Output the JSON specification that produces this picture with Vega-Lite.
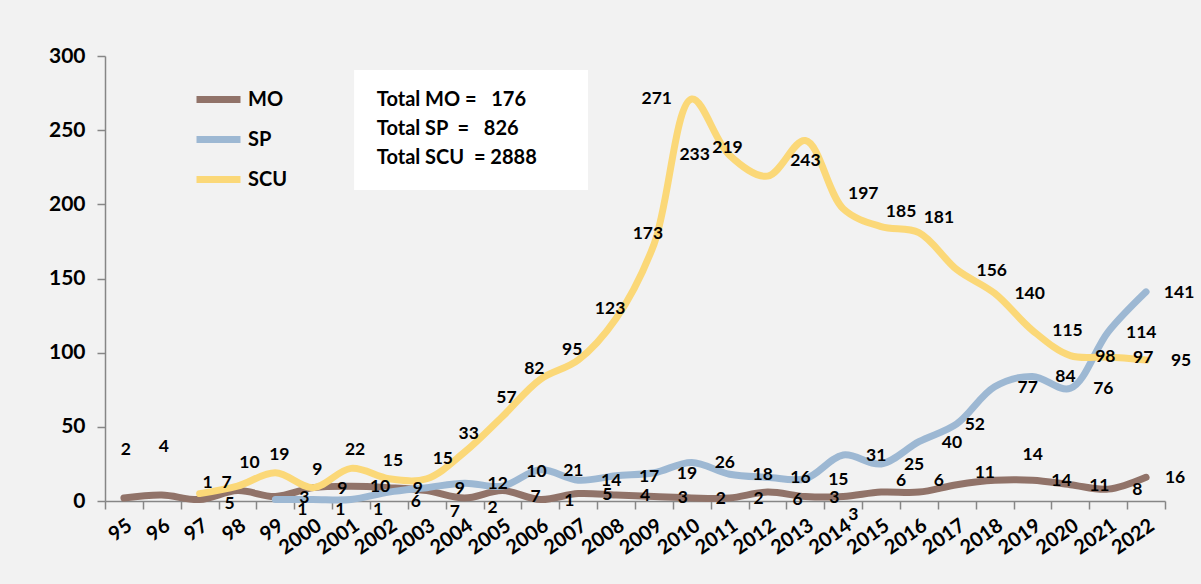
{
  "$schema": "https://vega.github.io/schema/vega-lite/v6.json",
  "width": 1060,
  "height": 445,
  "autosize": {"type": "none"},
  "padding": {"left": 105, "top": 56, "right": 36, "bottom": 83},
  "background": "#f2f2f2",
  "config": {
    "view": {"stroke": null},
    "font": "Lato",
    "text": {"font": "Lato", "fontSize": 17.5, "fontWeight": "bold", "color": "black", "align": "center", "baseline": "middle"}
  },
  "datasets": {
    "counts": [
      {"series": "MO", "year": "95", "value": 2},
      {"series": "MO", "year": "96", "value": 4},
      {"series": "MO", "year": "97", "value": 1},
      {"series": "MO", "year": "98", "value": 7},
      {"series": "MO", "year": "99", "value": 3},
      {"series": "MO", "year": "2000", "value": 9},
      {"series": "MO", "year": "2001", "value": 10},
      {"series": "MO", "year": "2002", "value": 9},
      {"series": "MO", "year": "2003", "value": 7},
      {"series": "MO", "year": "2004", "value": 2},
      {"series": "MO", "year": "2005", "value": 7},
      {"series": "MO", "year": "2006", "value": 1},
      {"series": "MO", "year": "2007", "value": 5},
      {"series": "MO", "year": "2008", "value": 4},
      {"series": "MO", "year": "2009", "value": 3},
      {"series": "MO", "year": "2010", "value": 2},
      {"series": "MO", "year": "2011", "value": 2},
      {"series": "MO", "year": "2012", "value": 6},
      {"series": "MO", "year": "2013", "value": 3},
      {"series": "MO", "year": "2014", "value": 3},
      {"series": "MO", "year": "2015", "value": 6},
      {"series": "MO", "year": "2016", "value": 6},
      {"series": "MO", "year": "2017", "value": 11},
      {"series": "MO", "year": "2018", "value": 14},
      {"series": "MO", "year": "2019", "value": 14},
      {"series": "MO", "year": "2020", "value": 11},
      {"series": "MO", "year": "2021", "value": 8},
      {"series": "MO", "year": "2022", "value": 16},
      {"series": "SP", "year": "99", "value": 1},
      {"series": "SP", "year": "2000", "value": 1},
      {"series": "SP", "year": "2001", "value": 1},
      {"series": "SP", "year": "2002", "value": 6},
      {"series": "SP", "year": "2003", "value": 9},
      {"series": "SP", "year": "2004", "value": 12},
      {"series": "SP", "year": "2005", "value": 10},
      {"series": "SP", "year": "2006", "value": 21},
      {"series": "SP", "year": "2007", "value": 14},
      {"series": "SP", "year": "2008", "value": 17},
      {"series": "SP", "year": "2009", "value": 19},
      {"series": "SP", "year": "2010", "value": 26},
      {"series": "SP", "year": "2011", "value": 18},
      {"series": "SP", "year": "2012", "value": 16},
      {"series": "SP", "year": "2013", "value": 15},
      {"series": "SP", "year": "2014", "value": 31},
      {"series": "SP", "year": "2015", "value": 25},
      {"series": "SP", "year": "2016", "value": 40},
      {"series": "SP", "year": "2017", "value": 52},
      {"series": "SP", "year": "2018", "value": 77},
      {"series": "SP", "year": "2019", "value": 84},
      {"series": "SP", "year": "2020", "value": 76},
      {"series": "SP", "year": "2021", "value": 114},
      {"series": "SP", "year": "2022", "value": 141},
      {"series": "SCU", "year": "97", "value": 5},
      {"series": "SCU", "year": "98", "value": 10},
      {"series": "SCU", "year": "99", "value": 19},
      {"series": "SCU", "year": "2000", "value": 9},
      {"series": "SCU", "year": "2001", "value": 22},
      {"series": "SCU", "year": "2002", "value": 15},
      {"series": "SCU", "year": "2003", "value": 15},
      {"series": "SCU", "year": "2004", "value": 33},
      {"series": "SCU", "year": "2005", "value": 57},
      {"series": "SCU", "year": "2006", "value": 82},
      {"series": "SCU", "year": "2007", "value": 95},
      {"series": "SCU", "year": "2008", "value": 123},
      {"series": "SCU", "year": "2009", "value": 173},
      {"series": "SCU", "year": "2010", "value": 271},
      {"series": "SCU", "year": "2011", "value": 233},
      {"series": "SCU", "year": "2012", "value": 219},
      {"series": "SCU", "year": "2013", "value": 243},
      {"series": "SCU", "year": "2014", "value": 197},
      {"series": "SCU", "year": "2015", "value": 185},
      {"series": "SCU", "year": "2016", "value": 181},
      {"series": "SCU", "year": "2017", "value": 156},
      {"series": "SCU", "year": "2018", "value": 140},
      {"series": "SCU", "year": "2019", "value": 115},
      {"series": "SCU", "year": "2020", "value": 98},
      {"series": "SCU", "year": "2021", "value": 97},
      {"series": "SCU", "year": "2022", "value": 95}
    ]
  },
  "layer": [
    {
      "data": {"values": [{"note": "totals"}]},
      "layer": [
        {
          "mark": {"type": "rect", "fill": "white"},
          "encoding": {
            "x": {"datum": 6.58, "type": "quantitative", "scale": {"domain": [0, 28], "nice": false, "zero": false}, "axis": null},
            "x2": {"datum": 12.76},
            "y": {"datum": 290.6, "type": "quantitative", "scale": {"domain": [0, 300], "nice": false}, "axis": null},
            "y2": {"datum": 209.7}
          }
        },
        {
          "mark": {
            "type": "text",
            "align": "left",
            "baseline": "alphabetic",
            "font": "Lato",
            "fontSize": 20,
            "fontWeight": "bold",
            "color": "black",
            "lineHeight": 29,
            "text": ["Total MO =\u00a0\u00a0 176", "Total SP\u00a0 =\u00a0\u00a0 826", "Total SCU\u00a0 = 2888"]
          },
          "encoding": {
            "x": {"datum": 7.18, "type": "quantitative", "scale": {"domain": [0, 28], "nice": false, "zero": false}, "axis": null},
            "y": {"datum": 266, "type": "quantitative", "scale": {"domain": [0, 300], "nice": false}, "axis": null}
          }
        }
      ]
    },
    {
      "data": {"name": "counts"},
      "encoding": {
        "x": {
          "field": "year",
          "type": "ordinal",
          "bandPosition": 0.5,
          "scale": {
            "type": "band",
            "paddingInner": 0,
            "paddingOuter": 0,
            "domain": ["95", "96", "97", "98", "99", "2000", "2001", "2002", "2003", "2004", "2005", "2006", "2007", "2008", "2009", "2010", "2011", "2012", "2013", "2014", "2015", "2016", "2017", "2018", "2019", "2020", "2021", "2022"]
          },
          "axis": {
            "title": null,
            "tickBand": "extent",
            "labelAngle": -35,
            "labelAlign": "right",
            "labelBaseline": "top",
            "labelFont": "Lato",
            "labelFontSize": 20,
            "labelFontWeight": "bold",
            "labelColor": "black",
            "labelOverlap": false,
            "labelPadding": 6,
            "domainColor": "#868686",
            "domainWidth": 1.5,
            "tickColor": "#868686",
            "tickWidth": 1.5,
            "tickSize": 8,
            "grid": false
          }
        },
        "y": {
          "field": "value",
          "type": "quantitative",
          "scale": {"domain": [0, 300], "nice": false},
          "axis": {
            "title": null,
            "values": [0, 50, 100, 150, 200, 250, 300],
            "labelFont": "Lato",
            "labelFontSize": 21,
            "labelFontWeight": "bold",
            "labelColor": "black",
            "labelPadding": 12,
            "domainColor": "#868686",
            "domainWidth": 1.5,
            "tickColor": "#868686",
            "tickWidth": 1.5,
            "tickSize": 8,
            "grid": false
          }
        }
      },
      "layer": [
        {
          "mark": {"type": "line", "interpolate": "catmull-rom", "strokeWidth": 7, "strokeCap": "round", "strokeJoin": "round"},
          "encoding": {
            "color": {
              "field": "series",
              "type": "nominal",
              "scale": {"domain": ["MO", "SP", "SCU"], "range": ["#917369", "#9db8d3", "#fbd878"]},
              "legend": {
                "title": null,
                "orient": "none",
                "legendX": 88,
                "legendY": 18,
                "symbolType": "stroke",
                "symbolSize": 1936,
                "symbolStrokeWidth": 7,
                "labelFont": "Lato",
                "labelFontSize": 20,
                "labelFontWeight": "bold",
                "labelColor": "black",
                "labelOffset": 4,
                "rowPadding": 0,
                "padding": 0
              }
            }
          }
        },
        {"transform": [{"filter": {"field": "series", "equal": "MO"}}, {"filter": {"field": "year", "oneOf": ["95", "96"]}}],
         "mark": {"type": "text", "dx": 2, "dy": -48}, "encoding": {"text": {"field": "value", "type": "quantitative"}}},
        {"transform": [{"filter": {"field": "series", "equal": "MO"}}, {"filter": {"field": "year", "oneOf": ["97"]}}],
         "mark": {"type": "text", "dx": 8, "dy": -17}, "encoding": {"text": {"field": "value", "type": "quantitative"}}},
        {"transform": [{"filter": {"field": "series", "equal": "MO"}}, {"filter": {"field": "year", "oneOf": ["98"]}}],
         "mark": {"type": "text", "dx": -11, "dy": -8}, "encoding": {"text": {"field": "value", "type": "quantitative"}}},
        {"transform": [{"filter": {"field": "series", "equal": "MO"}}, {"filter": {"field": "year", "oneOf": ["2003"]}}],
         "mark": {"type": "text", "dx": 28, "dy": 21}, "encoding": {"text": {"field": "value", "type": "quantitative"}}},
        {"transform": [{"filter": {"field": "series", "equal": "MO"}}, {"filter": {"field": "year", "oneOf": ["2004"]}}],
         "mark": {"type": "text", "dx": 28, "dy": 10}, "encoding": {"text": {"field": "value", "type": "quantitative"}}},
        {"transform": [{"filter": {"field": "series", "equal": "MO"}}, {"filter": {"field": "year", "oneOf": ["2005"]}}],
         "mark": {"type": "text", "dx": 33, "dy": 6}, "encoding": {"text": {"field": "value", "type": "quantitative"}}},
        {"transform": [{"filter": {"field": "series", "equal": "MO"}}, {"filter": {"field": "year", "oneOf": ["2012"]}}],
         "mark": {"type": "text", "dx": 30, "dy": 8}, "encoding": {"text": {"field": "value", "type": "quantitative"}}},
        {"transform": [{"filter": {"field": "series", "equal": "MO"}}, {"filter": {"field": "year", "oneOf": ["2014"]}}],
         "mark": {"type": "text", "dx": 10, "dy": 18}, "encoding": {"text": {"field": "value", "type": "quantitative"}}},
        {"transform": [{"filter": {"field": "series", "equal": "MO"}}, {"filter": {"field": "year", "oneOf": ["2015", "2016"]}}],
         "mark": {"type": "text", "dx": 20, "dy": -11}, "encoding": {"text": {"field": "value", "type": "quantitative"}}},
        {"transform": [{"filter": {"field": "series", "equal": "MO"}}, {"filter": {"field": "year", "oneOf": ["2017"]}}],
         "mark": {"type": "text", "dx": 28, "dy": -12}, "encoding": {"text": {"field": "value", "type": "quantitative"}}},
        {"transform": [{"filter": {"field": "series", "equal": "MO"}}, {"filter": {"field": "year", "oneOf": ["2018"]}}],
         "mark": {"type": "text", "dx": 38, "dy": -25}, "encoding": {"text": {"field": "value", "type": "quantitative"}}},
        {"transform": [{"filter": {"field": "series", "equal": "MO"}}, {"filter": {"field": "year", "oneOf": ["99", "2000", "2001", "2002", "2006", "2007", "2008", "2009", "2010", "2011", "2013", "2019", "2020", "2021", "2022"]}}],
         "mark": {"type": "text", "dx": 29, "dy": 1}, "encoding": {"text": {"field": "value", "type": "quantitative"}}},
        {"transform": [{"filter": {"field": "series", "equal": "SP"}}, {"filter": {"field": "year", "oneOf": ["99", "2000", "2001", "2002"]}}],
         "mark": {"type": "text", "dx": 27, "dy": 10}, "encoding": {"text": {"field": "value", "type": "quantitative"}}},
        {"transform": [{"filter": {"field": "series", "equal": "SP"}}, {"filter": {"field": "year", "oneOf": ["2005"]}}],
         "mark": {"type": "text", "dx": 34, "dy": -14}, "encoding": {"text": {"field": "value", "type": "quantitative"}}},
        {"transform": [{"filter": {"field": "series", "equal": "SP"}}, {"filter": {"field": "year", "oneOf": ["2017"]}}],
         "mark": {"type": "text", "dx": 18, "dy": 1}, "encoding": {"text": {"field": "value", "type": "quantitative"}}},
        {"transform": [{"filter": {"field": "series", "equal": "SP"}}, {"filter": {"field": "year", "oneOf": ["2003", "2004", "2006", "2007", "2008", "2009", "2010", "2011", "2012", "2013", "2014", "2015", "2016", "2018", "2019", "2020", "2021", "2022"]}}],
         "mark": {"type": "text", "dx": 33, "dy": 1}, "encoding": {"text": {"field": "value", "type": "quantitative"}}},
        {"transform": [{"filter": {"field": "series", "equal": "SCU"}}, {"filter": {"field": "year", "oneOf": ["97"]}}],
         "mark": {"type": "text", "dx": 30, "dy": 10}, "encoding": {"text": {"field": "value", "type": "quantitative"}}},
        {"transform": [{"filter": {"field": "series", "equal": "SCU"}}, {"filter": {"field": "year", "oneOf": ["98"]}}],
         "mark": {"type": "text", "dx": 12, "dy": -23}, "encoding": {"text": {"field": "value", "type": "quantitative"}}},
        {"transform": [{"filter": {"field": "series", "equal": "SCU"}}, {"filter": {"field": "year", "oneOf": ["2003"]}}],
         "mark": {"type": "text", "dx": 16, "dy": -20}, "encoding": {"text": {"field": "value", "type": "quantitative"}}},
        {"transform": [{"filter": {"field": "series", "equal": "SCU"}}, {"filter": {"field": "year", "oneOf": ["99", "2000", "2001", "2002", "2004", "2005"]}}],
         "mark": {"type": "text", "dx": 4, "dy": -18}, "encoding": {"text": {"field": "value", "type": "quantitative"}}},
        {"transform": [{"filter": {"field": "series", "equal": "SCU"}}, {"filter": {"field": "year", "oneOf": ["2006", "2007", "2008", "2009"]}}],
         "mark": {"type": "text", "dx": -6, "dy": -10}, "encoding": {"text": {"field": "value", "type": "quantitative"}}},
        {"transform": [{"filter": {"field": "series", "equal": "SCU"}}, {"filter": {"field": "year", "oneOf": ["2010", "2011"]}}],
         "mark": {"type": "text", "dx": -35, "dy": 0}, "encoding": {"text": {"field": "value", "type": "quantitative"}}},
        {"transform": [{"filter": {"field": "series", "equal": "SCU"}}, {"filter": {"field": "year", "oneOf": ["2012"]}}],
         "mark": {"type": "text", "dx": -40, "dy": -28}, "encoding": {"text": {"field": "value", "type": "quantitative"}}},
        {"transform": [{"filter": {"field": "series", "equal": "SCU"}}, {"filter": {"field": "year", "oneOf": ["2013"]}}],
         "mark": {"type": "text", "dx": 0, "dy": 20}, "encoding": {"text": {"field": "value", "type": "quantitative"}}},
        {"transform": [{"filter": {"field": "series", "equal": "SCU"}}, {"filter": {"field": "year", "oneOf": ["2014", "2015", "2016"]}}],
         "mark": {"type": "text", "dx": 20, "dy": -15}, "encoding": {"text": {"field": "value", "type": "quantitative"}}},
        {"transform": [{"filter": {"field": "series", "equal": "SCU"}}, {"filter": {"field": "year", "oneOf": ["2017", "2018", "2019", "2020", "2021", "2022"]}}],
         "mark": {"type": "text", "dx": 35, "dy": 1}, "encoding": {"text": {"field": "value", "type": "quantitative"}}}
      ]
    }
  ],
  "resolve": {"scale": {"x": "independent", "y": "independent"}}
}
